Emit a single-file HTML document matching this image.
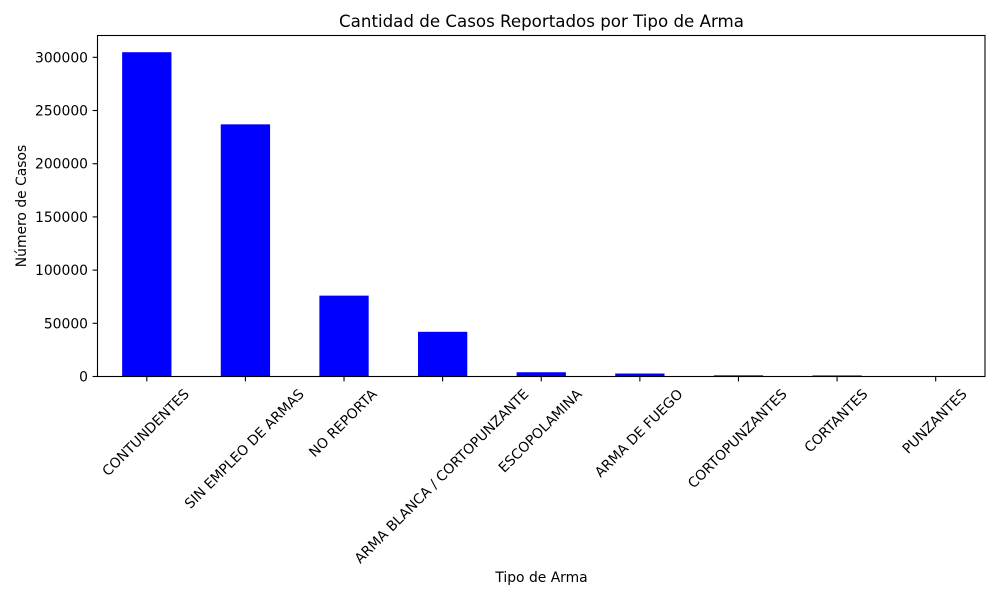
<!DOCTYPE html>
<html lang="es">
<head>
<meta charset="utf-8">
<title>Cantidad de Casos Reportados por Tipo de Arma</title>
<style>
html,body{margin:0;padding:0;background:#fff;}
svg{display:block;font-family:"DejaVu Sans","Liberation Sans",sans-serif;fill:#000;}
</style>
</head>
<body>
<svg id="chart" xmlns="http://www.w3.org/2000/svg" width="1000" height="600" viewBox="0 0 1000 600">
  <text x="541.5" y="27" font-size="16.67" text-anchor="middle">Cantidad de Casos Reportados por Tipo de Arma</text>
  <text x="541.5" y="582" font-size="13.89" text-anchor="middle">Tipo de Arma</text>
  <text transform="translate(26,206) rotate(-90)" font-size="13.89" text-anchor="middle">Número de Casos</text>
  <g id="bars"></g>
  <g id="x-ticks"></g>
  <g id="y-ticks"></g>
  <rect x="97.5" y="35.5" width="887.5" height="341" fill="none" stroke="#000" stroke-width="1.1"></rect>
</svg>
<script>
const categories = ["CONTUNDENTES","SIN EMPLEO DE ARMAS","NO REPORTA","ARMA BLANCA / CORTOPUNZANTE","ESCOPOLAMINA","ARMA DE FUEGO","CORTOPUNZANTES","CORTANTES","PUNZANTES"];
const caseCounts = [304800,237000,76000,42000,4000,2800,1100,1000,100];
const yTickValues = [0,50000,100000,150000,200000,250000,300000];

const NS = 'http://www.w3.org/2000/svg';
const plot = {left:97.5,right:985,top:36,bottom:376.5};
const yMax = Math.max.apply(null, caseCounts) * 1.05;
function xScale(i){ return plot.left + (i + 0.5) / categories.length * (plot.right - plot.left); }
function yScale(v){ return plot.bottom - v / yMax * (plot.bottom - plot.top); }
const barWidth = 0.5 / categories.length * (plot.right - plot.left);

function make(tag, attrs, parent){
  const el = document.createElementNS(NS, tag);
  Object.keys(attrs).forEach(function(k){ el.setAttribute(k, attrs[k]); });
  parent.appendChild(el);
  return el;
}

const barsGroup = document.getElementById('bars');
const xGroup = document.getElementById('x-ticks');
const yGroup = document.getElementById('y-ticks');

caseCounts.forEach(function(v, i){
  const bar = make('rect', {x:xScale(i) - barWidth / 2, y:yScale(v), width:barWidth, height:plot.bottom - yScale(v), fill:'#0000ff'}, barsGroup);
  
  
});

categories.forEach(function(label, i){
  const x = xScale(i);
  const tick = make('line', {x1:x, x2:x, y1:plot.bottom, y2:plot.bottom + 4.9, stroke:'#000', 'stroke-width':1.1}, xGroup);
  
  
  const t = make('text', {'font-size':13.89, 'text-anchor':'middle'}, xGroup);
  
  
  t.textContent = label;
  const w = t.getComputedTextLength();
  const lineH = 10.5;
  const h = (w + lineH) * Math.SQRT1_2;
  const cy = plot.bottom + 11 + h / 2;
  t.setAttribute('transform', 'translate(' + (x - 1.5) + ',' + cy + ') rotate(-45)');
  t.setAttribute('y', lineH / 2);
});

yTickValues.forEach(function(v){
  const y = yScale(v);
  const tick = make('line', {x1:plot.left - 4.9, x2:plot.left, y1:y, y2:y, stroke:'#000', 'stroke-width':1.1}, yGroup);
  
  
  const t = make('text', {x:plot.left - 9.5, y:y + 5, 'font-size':13.89, 'text-anchor':'end'}, yGroup);
  
  
  t.textContent = String(v);
});
</script>
</body>
</html>
